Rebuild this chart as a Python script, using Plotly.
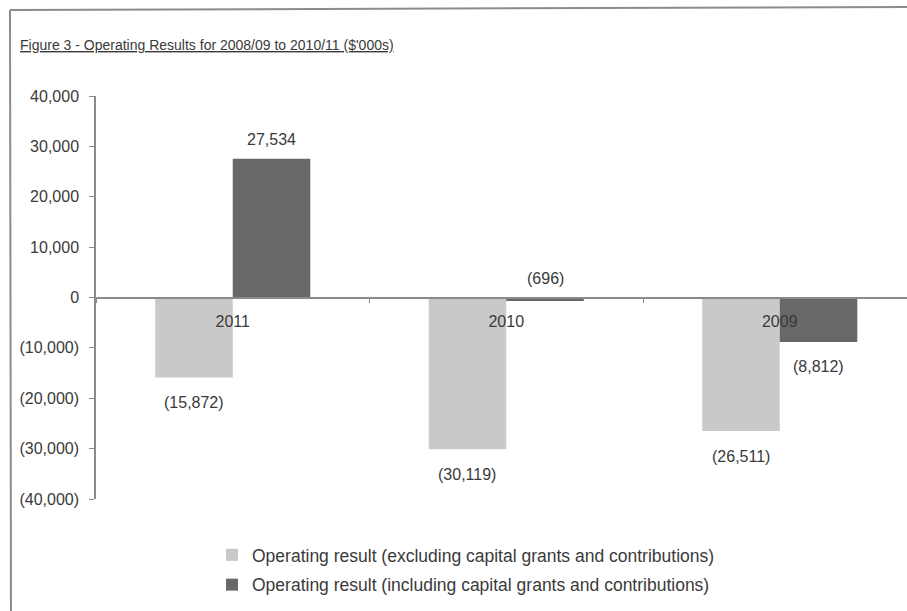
import plotly.graph_objects as go

# Operating results by year ($'000s)
years = ["2011", "2010", "2009"]
excl_capital = [-15872, -30119, -26511]   # excluding capital grants and contributions
incl_capital = [27534, -696, -8812]       # including capital grants and contributions
series_names = [
    "Operating result (excluding capital grants and contributions)",
    "Operating result (including capital grants and contributions)",
]
y_tick_vals = [40000, 30000, 20000, 10000, 0, -10000, -20000, -30000, -40000]

LIGHT = "#c9c9c9"
DARK = "#686868"
TEXT = "#3a3a3a"
AXIS = "#8a8a8a"
SANS = "Liberation Sans, Arial, sans-serif"

W, H = 907, 611
L, R, T, B = 96, 0, 96, 112
PW, PH = W - L - R, H - T - B
CAT_PX = 273.5                      # pixel width of one category slot


def px_x(p):
    return (p - L) / PW


def px_y(p):
    return (H - B - p) / PH


def fmt(v):
    s = f"{abs(v):,}"
    return f"({s})" if v < 0 else s


fig = go.Figure()
fig.add_trace(go.Bar(x=years, y=excl_capital, name=series_names[0],
                     marker=dict(color=LIGHT, line=dict(width=0)),
                     legendgroup="a"))
fig.add_trace(go.Bar(x=years, y=incl_capital, name=series_names[1],
                     marker=dict(color=DARK, line=dict(width=0)),
                     legendgroup="b"))

# value labels at the end of each bar (x given as category index)
BARGAP = 0.433
bar_w = (1 - BARGAP) / 2
annotations = []
for values, off in ((excl_capital, -bar_w / 2), (incl_capital, bar_w / 2)):
    for i, v in enumerate(values):
        if v >= 0 or abs(v) < 3000:
            y, ys = max(v, 0), 19
        else:
            y, ys = v, -25
        annotations.append(dict(x=i + off, y=y, xref="x", yref="y", text=fmt(v),
                                showarrow=False, yshift=ys,
                                xanchor="center", yanchor="middle",
                                font=dict(family=SANS, size=16, color=TEXT)))

annotations.append(dict(
    x=px_x(18), y=px_y(45), xref="paper", yref="paper",
    xanchor="left", yanchor="middle", showarrow=False,
    text="<u>Figure 3 - Operating Results for 2008/09 to 2010/11 ($'000s)</u>",
    font=dict(family=SANS, size=14, color=TEXT)))

shapes = [
    dict(type="line", xref="paper", yref="paper",
         x0=px_x(10), x1=px_x(907), y0=px_y(10), y1=px_y(7),
         line=dict(color="#8c8c8c", width=2)),
    dict(type="line", xref="paper", yref="paper",
         x0=px_x(10), x1=px_x(11), y0=px_y(10), y1=px_y(611),
         line=dict(color="#8c8c8c", width=2)),
]

fig.update_layout(
    width=W, height=H,
    margin=dict(l=L, r=R, t=T, b=B),
    paper_bgcolor="white", plot_bgcolor="white",
    barmode="group", bargap=BARGAP, bargroupgap=0,
    font=dict(family=SANS, color=TEXT),
    showlegend=True,
    legend=dict(x=px_x(212), y=px_y(537), xanchor="left", yanchor="top",
                orientation="v", traceorder="grouped", tracegroupgap=4,
                font=dict(family=SANS, size=17.5, color=TEXT),
                bgcolor="rgba(0,0,0,0)", borderwidth=0),
    annotations=annotations,
    shapes=shapes,
)

fig.update_xaxes(
    type="category", range=[-0.5, -0.5 + PW / CAT_PX],
    anchor="free", position=0.5,
    showline=True, linecolor=AXIS, linewidth=1.5,
    ticks="outside", tickson="boundaries", ticklen=5, tickcolor=AXIS,
    ticklabelstandoff=10,
    tickfont=dict(family=SANS, size=16, color=TEXT),
    showgrid=False, zeroline=False, fixedrange=True,
)
fig.update_yaxes(
    range=[-40000, 40000],
    tickvals=y_tick_vals, ticktext=[fmt(v) for v in y_tick_vals],
    showline=True, linecolor=AXIS, linewidth=1.5,
    ticks="outside", ticklen=5, tickcolor=AXIS,
    ticklabelstandoff=7,
    tickfont=dict(family=SANS, size=16, color=TEXT),
    showgrid=False, zeroline=False, fixedrange=True,
)

fig.write_html("out.html")
